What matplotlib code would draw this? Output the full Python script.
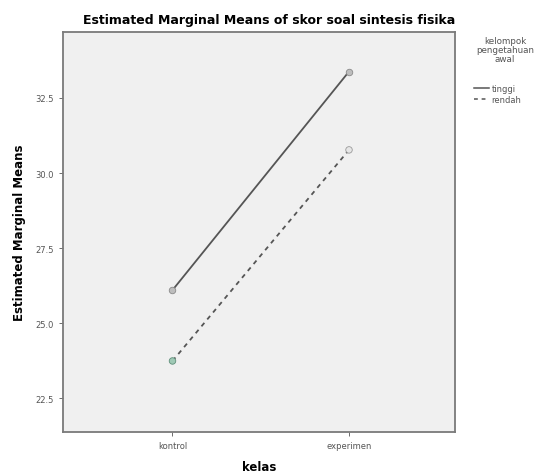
import matplotlib
matplotlib.use("Agg")
import matplotlib.pyplot as plt
from matplotlib.lines import Line2D

# data
kelas = ["kontrol", "experimen"]
groups = ["tinggi", "rendah"]
tinggi = [26.1, 33.38]
rendah = [23.74, 30.77]
yticks = [22.5, 25.0, 27.5, 30.0, 32.5]

fig = plt.figure(figsize=(5.39, 4.77), dpi=100)
ax = fig.add_axes([0.117, 0.092, 0.727, 0.839])
ax.set_facecolor("#f0f0f0")

x = list(range(len(kelas)))
ax.plot(x, tinggi, color="#555555", lw=1.3, ls="-", zorder=2)
ax.plot(x, rendah, color="#555555", lw=1.3, ls=(0, (2.5, 2.5)), zorder=2)
ax.scatter(x, tinggi, s=22, facecolor="#bdbdbd", edgecolor="#8a8a8a", lw=0.6, zorder=3)
ax.scatter(x, rendah, s=22, facecolor=["#9fc9b5", "#e6e6e6"], edgecolor=["#5f8f7a", "#9a9a9a"],
           lw=0.6, zorder=3)

ax.set_xlim(-0.62, 1.6)
ax.set_ylim(21.37, 34.7)
ax.set_xticks(x)
ax.set_xticklabels(kelas)
ax.set_yticks(yticks)
ax.set_yticklabels([f"{v:.1f}" for v in yticks])
ax.tick_params(labelsize=6, colors="#555555", length=3, width=0.6)

for s in ax.spines.values():
    s.set_color("#7a7a7a")
    s.set_linewidth(1.3)

ax.set_xlabel("kelas", fontsize=8.5, fontweight="bold", labelpad=7)
ax.set_ylabel("Estimated Marginal Means", fontsize=8.5, fontweight="bold", labelpad=7)
fig.text(0.5, 0.958, "Estimated Marginal Means of skor soal sintesis fisika",
         ha="center", va="center", fontsize=9, fontweight="bold")

# legend outside on the right
fig.text(0.937, 0.895, "kelompok\npengetahuan\nawal", ha="center", va="center",
         fontsize=6.3, color="#555555", linespacing=1.0)
handles = [Line2D([], [], color="#555555", lw=1.1, ls="-"),
           Line2D([], [], color="#555555", lw=1.1, ls=(0, (2.5, 2.5)))]
fig.legend(handles, groups, loc="upper left", bbox_to_anchor=(0.872, 0.83),
           frameon=False, fontsize=6, handlelength=1.8, handletextpad=0.3,
           labelspacing=0.15, labelcolor="#555555", borderpad=0)

fig.savefig("out.png", dpi=100)
